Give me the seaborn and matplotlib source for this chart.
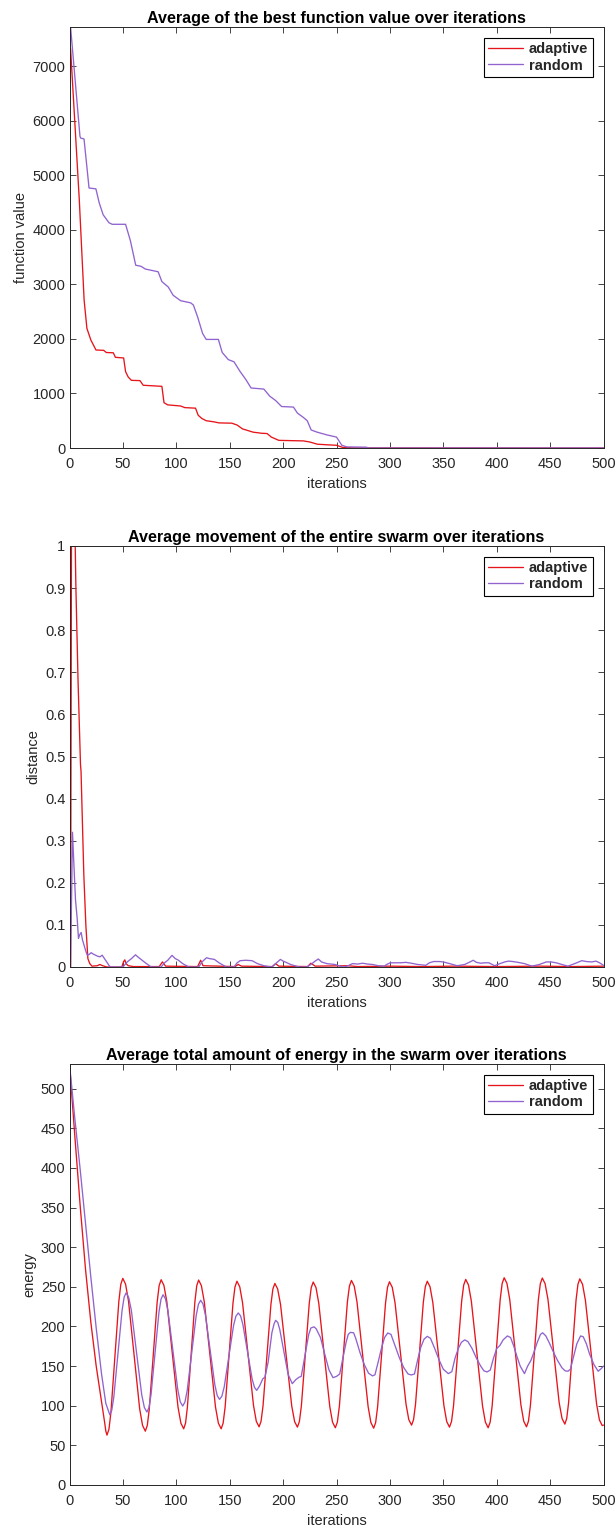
import matplotlib
matplotlib.use("Agg")
import matplotlib.pyplot as plt
import pandas as pd
import seaborn as sns

# ---------------------------------------------------------------- data
# best function value (mean over runs)
fv_adaptive_iter = [1, 9.2, 13.7, 16.3, 20, 24.8, 32, 34.5, 41, 43, 50.7, 52.5, 55, 58,
                    66, 69, 86.5, 88.5, 92, 104, 108, 118, 120.5, 124, 128, 135, 140,
                    152, 157, 162, 167, 172, 180, 185, 189, 196, 219, 225, 232, 240,
                    250, 256, 267, 500]
fv_adaptive = [7321, 4536, 2709, 2192, 1979, 1796, 1790, 1750, 1745, 1662, 1650, 1400,
               1300, 1240, 1235, 1150, 1130, 830, 790, 770, 740, 730, 600, 540, 500,
               480, 460, 455, 420, 350, 320, 290, 270, 265, 200, 140, 130, 110, 70, 60,
               50, 10, 2, 0]
fv_random_iter = [1, 9.8, 10.5, 13.6, 18.3, 24.7, 27.8, 31.5, 37, 40, 52.5, 57, 62, 67,
                  71, 83, 86.5, 92.5, 97, 104, 113.5, 116, 120, 124.6, 128, 139.4, 143,
                  148.7, 154, 159.8, 165.3, 170, 182, 187.5, 193, 198.6, 209.7, 213.4,
                  219, 222.6, 226.3, 231.9, 241, 250, 255, 259.6, 278, 280, 500]
fv_random = [7716, 5712, 5680, 5664, 4765, 4750, 4495, 4275, 4128, 4100, 4100, 3800,
             3350, 3330, 3280, 3230, 3050, 2950, 2800, 2700, 2660, 2620, 2400, 2100,
             1990, 1990, 1750, 1620, 1580, 1400, 1250, 1100, 1080, 950, 870, 760, 750,
             640, 560, 500, 330, 290, 240, 200, 50, 20, 15, 0, 0]

# mean movement of the swarm
mv_adaptive_iter = [1, 2, 3, 4.7, 6, 8, 10.3, 10.8, 13.4, 15.3, 17.2, 19, 21, 26, 28.4,
                    31, 35, 49, 50.5, 51.8, 53, 55, 60, 84, 87, 90, 120, 122.8, 125,
                    155, 158, 161, 190, 193, 196, 223, 226, 230, 260, 270, 300, 330,
                    360, 400, 440, 470, 500]
mv_adaptive = [0, 1.2, 1.15, 1.1, 0.9, 0.68, 0.48, 0.465, 0.22, 0.1, 0.02, 0.008, 0.002,
               0.003, 0.006, 0.003, 0.0, 0.0, 0.012, 0.017, 0.008, 0.003, 0.001, 0.001,
               0.012, 0.002, 0.001, 0.016, 0.003, 0.001, 0.006, 0.002, 0.001, 0.008,
               0.002, 0.001, 0.009, 0.002, 0.003, 0.001, 0.002, 0.001, 0.002, 0.001,
               0.002, 0.001, 0.002]
mv_random_iter = [1, 2.8, 4, 5.6, 7.2, 8.4, 9.4, 10.9, 12.2, 15, 16.6, 18.5, 20.3, 22,
                  24.4, 26, 28.4, 30.6, 33.8, 36.9, 38.4, 50, 50.7, 54, 58, 61.8, 64, 67,
                  71, 76.5, 85.8, 89, 92, 96, 99, 102, 106, 111.7, 121, 124, 128.3, 131,
                  135.7, 140, 146.8, 154, 157, 159.8, 165, 171, 176, 182, 189.3, 193,
                  197.5, 200, 202, 207, 215, 222, 226, 230, 233, 236, 241, 248.5, 256,
                  260, 265, 270, 274.4, 279, 283.7, 289, 294.7, 297, 300.3, 305, 310,
                  315, 320, 326, 333.6, 337, 341, 346, 350, 356, 363, 370, 375, 378,
                  381, 385, 389, 392.7, 398, 403, 407.5, 411, 415, 420, 426, 433, 440,
                  446.4, 451, 455.6, 461, 466.7, 473, 479.7, 484, 489, 493, 496.3, 500]
mv_random = [0, 0.32, 0.25, 0.16, 0.115, 0.068, 0.076, 0.082, 0.064, 0.04, 0.028, 0.03,
             0.034, 0.031, 0.028, 0.026, 0.024, 0.028, 0.016, 0.004, 0, 0, 0.002, 0.012,
             0.02, 0.029, 0.024, 0.018, 0.01, 0, 0, 0.01, 0.016, 0.0276, 0.02, 0.016,
             0.008, 0, 0, 0.012, 0.022, 0.02, 0.018, 0.01, 0, 0, 0.01, 0.015, 0.016,
             0.015, 0.008, 0.003, 0, 0.008, 0.018, 0.014, 0.012, 0.006, 0, 0.0, 0.006,
             0.014, 0.019, 0.012, 0.008, 0.006, 0, 0.002, 0.008, 0.007, 0.009, 0.007,
             0.006, 0.003, 0.002, 0.006, 0.01, 0.01, 0.01, 0.011, 0.009, 0.006, 0.004,
             0.01, 0.013, 0.013, 0.012, 0.008, 0.003, 0.006, 0.012, 0.016, 0.011, 0.009,
             0.01, 0.01, 0.003, 0.008, 0.012, 0.014, 0.013, 0.011, 0.008, 0.002, 0.006,
             0.012, 0.012, 0.01, 0.006, 0.002, 0.008, 0.015, 0.013, 0.012, 0.014, 0.01,
             0.004]

# mean total energy of the swarm
en_adaptive_iter = [0, 5, 10, 15, 20, 25, 30, 33, 34, 35.1,
                    36.95, 38.8, 42.5, 46.2, 48.05, 49.9, 52.5, 55.2, 60.45, 65.7, 68.4, 71.0,
                    72.85, 74.7, 78.4, 82.1, 83.95, 85.8, 88.4, 91.1, 96.35, 101.6, 104.3, 106.9,
                    108.65, 110.4, 113.9, 117.4, 119.15, 120.9, 123.5, 126.2, 131.45, 136.7, 139.4, 142.0,
                    143.85, 145.7, 149.4, 153.1, 154.95, 156.8, 159.4, 162.0, 167.15, 172.3, 174.9, 177.5,
                    179.35, 181.2, 184.9, 188.6, 190.45, 192.3, 194.9, 197.6, 202.85, 208.1, 210.8, 213.4,
                    215.25, 217.1, 220.8, 224.5, 226.35, 228.2, 230.8, 233.4, 238.55, 243.7, 246.3, 248.9,
                    250.8, 252.7, 256.45, 260.2, 262.1, 264.0, 266.6, 269.2, 274.4, 279.6, 282.2, 284.8,
                    286.65, 288.5, 292.2, 295.9, 297.75, 299.6, 302.2, 304.8, 309.95, 315.1, 317.7, 320.3,
                    322.15, 324.0, 327.65, 331.3, 333.15, 335.0, 337.6, 340.2, 345.4, 350.6, 353.2, 355.8,
                    357.7, 359.6, 363.4, 367.2, 369.1, 371.0, 373.6, 376.25, 381.5, 386.75, 389.4, 392.0,
                    393.9, 395.75, 399.5, 403.25, 405.1, 407.0, 409.6, 412.2, 417.45, 422.7, 425.3, 427.9,
                    429.75, 431.6, 435.3, 439.0, 440.85, 442.7, 445.3, 448.0, 453.25, 458.5, 461.2, 463.8,
                    465.55, 467.3, 470.8, 474.3, 476.05, 477.8, 480.4, 483.05, 488.3, 493.55, 496.2, 498.8,
                    500]
en_adaptive = [531, 440, 352, 272, 205, 150, 105, 78, 68, 62.9,
               70.4, 91.8, 161.7, 231.7, 253.1, 260.6, 253.3, 232.5, 164.2, 96.0, 75.2, 67.9,
               75.2, 95.8, 163.4, 231.0, 251.6, 258.9, 251.8, 231.5, 164.9, 98.3, 78.0, 70.9,
               78.0, 98.3, 164.7, 231.1, 251.4, 258.5, 251.4, 231.1, 164.7, 98.3, 78.0, 70.9,
               78.0, 98.1, 164.0, 229.8, 249.9, 257.0, 250.0, 230.2, 165.2, 100.2, 80.4, 73.4,
               80.3, 99.8, 163.8, 227.8, 247.3, 254.2, 247.3, 227.7, 163.6, 99.5, 79.9, 73.0,
               80.0, 99.7, 164.5, 229.3, 249.0, 256.0, 249.0, 229.2, 164.1, 99.0, 79.2, 72.2,
               79.3, 99.3, 165.1, 230.9, 250.9, 258.0, 250.9, 230.8, 164.9, 98.9, 78.8, 71.7,
               78.7, 98.7, 164.0, 229.3, 249.3, 256.3, 249.4, 229.9, 165.9, 101.9, 82.4, 75.5,
               82.4, 102.0, 166.3, 230.5, 250.1, 257.0, 250.0, 230.1, 165.0, 99.9, 80.0, 73.0,
               80.1, 100.2, 166.2, 232.1, 252.2, 259.3, 252.2, 232.0, 165.8, 99.5, 79.3, 72.2,
               79.4, 99.8, 166.8, 233.8, 254.2, 261.4, 254.3, 234.0, 167.4, 100.8, 80.5, 73.4,
               80.5, 100.8, 167.2, 233.6, 253.9, 261.0, 254.0, 234.1, 168.9, 103.7, 83.8, 76.8,
               83.8, 103.5, 168.4, 233.3, 253.0, 260.0, 253.0, 233.0, 167.5, 102.0, 82.0, 75.0,
               75.5]
en_random_iter = [0, 5, 10, 15, 20, 25, 30, 34, 37.7,
                  39.6, 41.5, 45.35, 49.2, 51.1, 53.0, 55.4, 57.9, 62.75, 67.6, 70.1, 72.5,
                  74.4, 76.3, 80.05, 83.8, 85.7, 87.6, 89.9, 92.2, 96.8, 101.4, 103.7, 106.0,
                  108.1, 110.2, 114.4, 118.6, 120.7, 122.8, 125.0, 127.2, 131.65, 136.1, 138.3, 140.5,
                  142.7, 144.9, 149.25, 153.6, 155.8, 158.0, 160.2, 162.3, 166.65, 171.0, 173.2, 175.3,
                  178, 181, 183, 186, 189.5, 191.5, 193, 195, 196.9, 200.8, 204.7, 208.6,
                  212, 215, 217, 220, 224, 226, 229, 231, 235, 239, 243, 246.7,
                  250, 253, 256, 259, 261, 263, 266, 268, 272, 276, 280, 283.7,
                  286, 289, 292, 295, 298, 301, 305, 309, 313, 317, 320, 323,
                  326, 329, 332, 335, 338, 342, 346, 350, 354.7, 358,
                  361, 364, 367, 370, 373, 377, 381, 385, 388, 391, 394,
                  397, 400, 403, 406, 410, 413, 416, 419, 422, 426, 429, 432,
                  435, 438, 441, 443, 446, 449, 453, 457, 461, 464, 466.7, 469,
                  472, 475, 478.5, 481, 484, 487, 491, 495, 498, 500]
en_random = [531, 462, 398, 330, 262, 198, 140, 103, 88.6,
             94.4, 111.1, 165.5, 219.9, 236.6, 242.4, 236.7, 220.4, 167.2, 114.0, 97.7, 92.0,
             97.6, 113.6, 166.0, 218.4, 234.4, 240.0, 234.7, 219.5, 169.8, 120.1, 104.9, 99.6,
             104.7, 119.1, 166.3, 213.5, 227.9, 233.0, 228.3, 214.8, 170.5, 126.3, 112.8, 108.0,
             112.1, 123.9, 162.5, 201.1, 212.9, 217.0, 213.3, 202.7, 168.2, 133.7, 123.1, 119.4,
             125, 134, 136, 155, 192, 203, 207.7, 205, 196.0, 167.8, 139.5, 127.8,
             133, 136, 137, 160, 190, 198, 199.5, 197, 186, 165, 145, 135.4,
             137, 140, 160, 180, 190, 192.5, 192, 185, 167, 152, 141, 137.6,
             139, 155, 172, 186, 191.7, 190, 175, 160, 148, 140, 138.8, 140,
             158, 174, 184, 187.5, 185, 172, 158, 146, 140.5, 143,
             160, 172, 180, 183, 181, 172, 160, 150, 144, 142.6, 145,
             160, 172, 176, 183, 188, 186, 175, 162, 150, 140.5, 150, 157,
             168, 180, 190, 192, 188, 180, 168, 157, 148, 144, 143.5, 146,
             162, 178, 188, 187, 178, 165, 152, 143.5, 147, 150]

series_names = ["adaptive", "random"]
RED = "#e6141b"
PURPLE = "#9063cf"
INK = "#262626"

# ---------------------------------------------------------------- style
sns.set_style("ticks")
plt.rcParams["font.family"] = ["Liberation Sans", "DejaVu Sans"]
plt.rcParams["axes.edgecolor"] = INK

W, H = 616, 1530
fig = plt.figure(figsize=(W / 100, H / 100), dpi=100)


def make_axes(top_px, bottom_px, left_px=69.5, right_px=603.5):
    return fig.add_axes([left_px / W, (H - bottom_px) / H,
                         (right_px - left_px) / W, (bottom_px - top_px) / H])


def draw(ax, xa, ya, xr, yr):
    df_a = pd.DataFrame({"iteration": xa, "value": ya})
    df_r = pd.DataFrame({"iteration": xr, "value": yr})
    sns.lineplot(data=df_a, x="iteration", y="value", ax=ax, color=RED, lw=0.95,
                 label=series_names[0], estimator=None, sort=False)
    sns.lineplot(data=df_r, x="iteration", y="value", ax=ax, color=PURPLE, lw=0.95,
                 label=series_names[1], estimator=None, sort=False)


def finish(ax, title, ylabel, ylim, yticks, yticklabels):
    ax.set_xlim(0, 500)
    ax.set_ylim(*ylim)
    ax.set_xticks(list(range(0, 501, 50)))
    ax.set_yticks(yticks)
    ax.set_yticklabels(yticklabels)
    ax.tick_params(direction="in", top=True, right=True, length=4.5, width=0.6,
                   labelsize=10.5, colors=INK, pad=3)
    ax.tick_params(axis="x", pad=6.5)
    for sp in ax.spines.values():
        sp.set_visible(True)
        sp.set_linewidth(0.7)
        sp.set_color(INK)
    ax.set_title(title, fontsize=11.6, fontweight="bold", color="black", pad=3)
    ax.set_xlabel("iterations", fontsize=10.5, color=INK, labelpad=4)
    ax.set_ylabel(ylabel, fontsize=10.5, color=INK, labelpad=3)
    leg = ax.legend(loc="upper right", frameon=True, fancybox=False,
                    edgecolor="black", framealpha=1, borderaxespad=0.75,
                    handlelength=2.4, handletextpad=0.4, borderpad=0.3,
                    labelspacing=0.15, prop={"weight": "bold", "size": 10.5})
    leg.get_frame().set_linewidth(0.8)


ax1 = make_axes(27, 448)
draw(ax1, fv_adaptive_iter, fv_adaptive, fv_random_iter, fv_random)
finish(ax1, "Average of the best function value over iterations", "function value",
       (0, max(fv_random)), list(range(0, 7001, 1000)),
       [str(v) for v in range(0, 7001, 1000)])

ax2 = make_axes(546, 967)
draw(ax2, mv_adaptive_iter, mv_adaptive, mv_random_iter, mv_random)
mv_ticks = [i / 10 for i in range(11)]
finish(ax2, "Average movement of the entire swarm over iterations", "distance",
       (0, 1), mv_ticks, ["0"] + [f"{t:.1f}" for t in mv_ticks[1:-1]] + ["1"])

ax3 = make_axes(1064, 1485)
draw(ax3, en_adaptive_iter, en_adaptive, en_random_iter, en_random)
finish(ax3, "Average total amount of energy in the swarm over iterations", "energy",
       (0, max(en_adaptive)), list(range(0, 501, 50)),
       [str(v) for v in range(0, 501, 50)])

fig.savefig("out.png", dpi=100)
